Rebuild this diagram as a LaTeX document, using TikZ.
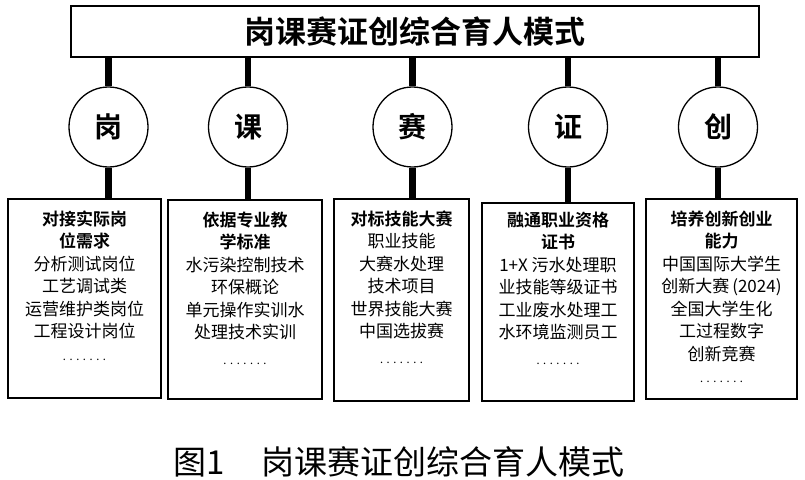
\documentclass[tikz,border=0pt]{standalone}
\usepackage{fontspec}
\usetikzlibrary{shapes.geometric}
\newfontfamily\cjk{Noto Sans CJK SC}[BoldFont={Noto Sans CJK SC Bold}]
\newcommand\mydotrow{{\fontsize{11}{11}\selectfont .\kern3.6pt.\kern3.6pt.\kern3.6pt.\kern3.6pt.\kern3.6pt.\kern3.6pt.}}
\tikzset{
  titlebox/.style={draw, line width=1.3pt, fill=white, inner sep=0pt, font=\cjk\bfseries\fontsize{31}{31}\selectfont},
  oval/.style={draw, ellipse, line width=1.3pt, minimum width=79pt, minimum height=80pt, inner sep=0pt, font=\cjk\bfseries\fontsize{28}{28}\selectfont},
  infobox/.style={draw, line width=1.3pt, inner sep=0pt},
  infotext/.style={anchor=north, inner sep=0pt, align=center, font=\cjk\fontsize{17}{22.5}\selectfont},
  conn/.style={line width=6.5pt},
  caption/.style={inner sep=0pt, font=\cjk\fontsize{33}{33}\selectfont}
}
\begin{document}
\begin{tikzpicture}[x=1pt,y=-1pt]
\useasboundingbox (0,0) rectangle (805,479);
\node[titlebox, minimum width=688pt, minimum height=51pt] (title) at (415,31.5) {岗课赛证创综合育人模式};

\node[oval] (e1) at (108.5,127) {岗};
\node[oval] (e2) at (248,127) {课};
\node[oval] (e3) at (412.5,127) {赛};
\node[oval] (e4) at (568,127) {证};
\node[oval] (e5) at (718,127) {创};

\node[infobox, minimum width=153pt, minimum height=199pt] (b1) at (84.5,298.5) {};
\node[infobox, minimum width=154pt, minimum height=199pt] (b2) at (245,299.5) {};
\node[infobox, minimum width=135pt, minimum height=202pt] (b3) at (401.5,300) {};
\node[infobox, minimum width=152pt, minimum height=198pt] (b4) at (558,302) {};
\node[infobox, minimum width=151pt, minimum height=200pt] (b5) at (721.5,299) {};

\foreach \i in {1,...,5} {
  \draw[conn] (e\i.north) -- (e\i |- title.south);
  \draw[conn] (e\i.south) -- (e\i |- b\i.north);
}

\node[infotext] (t1) at ([yshift=-12pt]b1.north) {\textbf{对接实际岗}\\\textbf{位需求}\\分析测试岗位\\工艺调试类\\运营维护类岗位\\工程设计岗位\\\mydotrow};
\node[infotext] (t2) at ([yshift=-12pt]b2.north) {\textbf{依据专业教}\\\textbf{学标准}\\水污染控制技术\\环保概论\\单元操作实训水\\处理技术实训\\[3pt]\mydotrow};
\node[infotext] (t3) at ([yshift=-12pt]b3.north) {\textbf{对标技能大赛}\\职业技能\\大赛水处理\\技术项目\\世界技能大赛\\中国选拔赛\\[3pt]\mydotrow};
\node[infotext] (t4) at ([yshift=-9pt]b4.north) {\textbf{融通职业资格}\\\textbf{证书}\\1+X 污水处理职\\业技能等级证书\\工业废水处理工\\水环境监测员工\\[3pt]\mydotrow};
\node[infotext] (t5) at ([yshift=-12pt]b5.north) {\textbf{培养创新创业}\\\textbf{能力}\\中国国际大学生\\创新大赛\,(2024)\\全国大学生化\\工过程数字\\创新竞赛\\\mydotrow};

\node[caption] (cap) at (399,462) {图1\hspace{36pt}岗课赛证创综合育人模式};
\end{tikzpicture}
\end{document}
